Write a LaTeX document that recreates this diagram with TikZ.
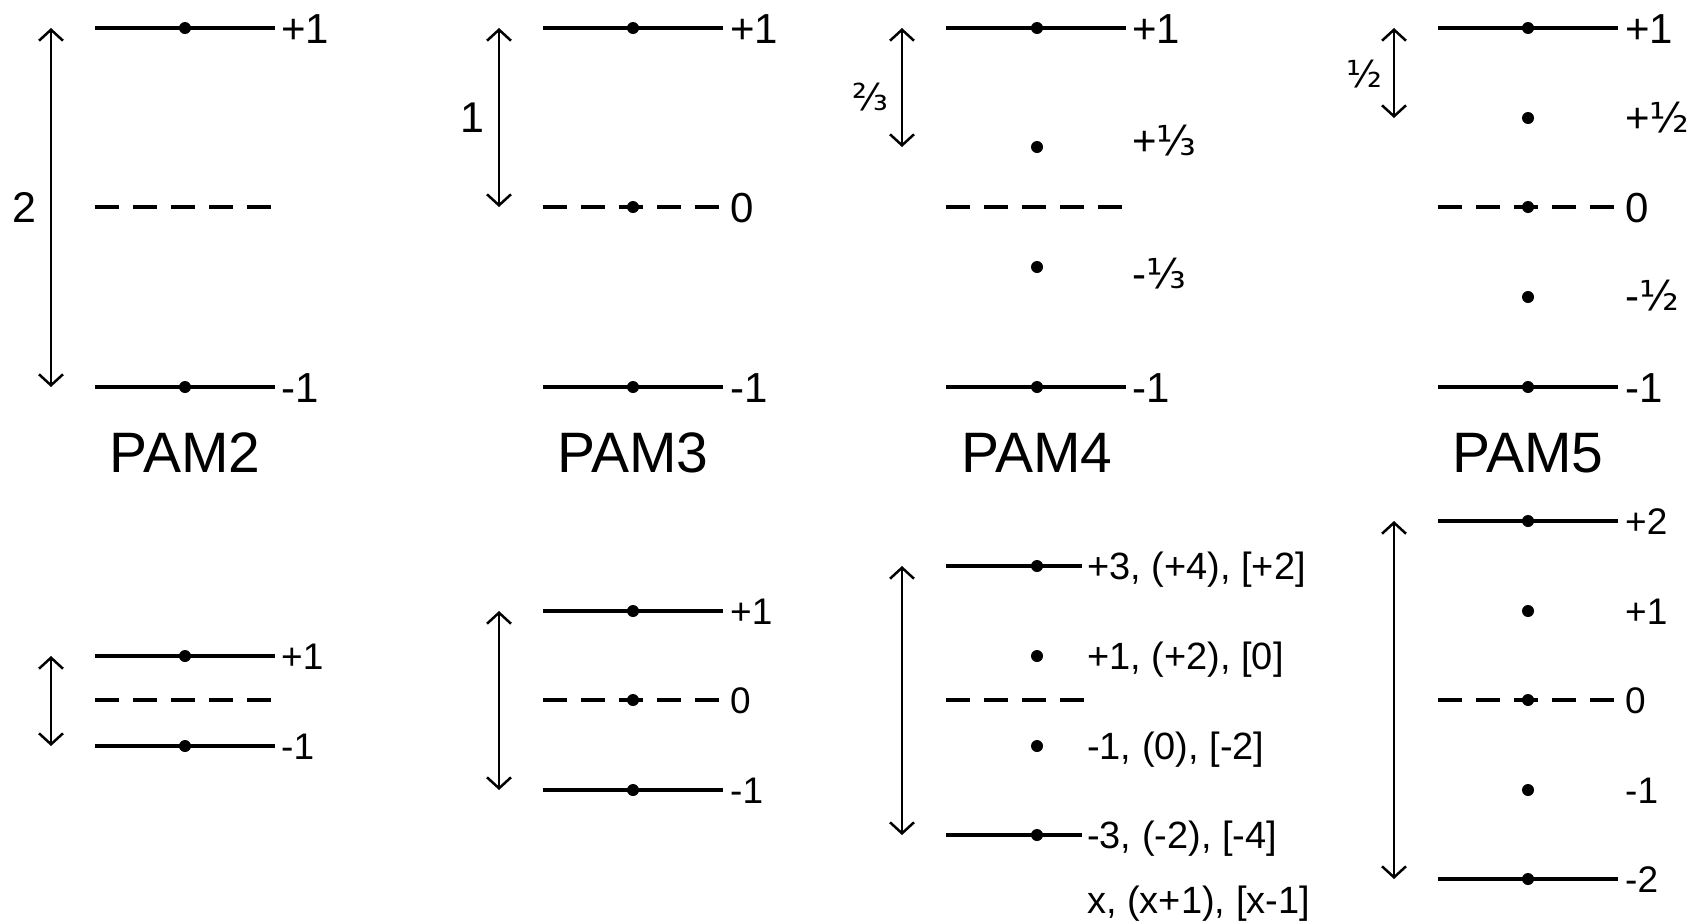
\documentclass[tikz,border=0pt]{standalone}
\usepackage{fontspec}
\setmainfont{Liberation Sans}
\newfontfamily\fracfont{DejaVu Sans}
\usetikzlibrary{arrows.meta}
\tikzset{
 lvl/.style={line width=3.1pt},
 dashlvl/.style={line width=3.1pt, dash pattern=on 24pt off 14pt},
 dot/.style={circle, fill=black, inner sep=0pt, minimum size=12pt},
 val/.style={anchor=base west, inner sep=0pt, font=\fontsize{37}{44}\selectfont},
 valbig/.style={anchor=base west, inner sep=0pt, font=\fontsize{42}{48}\selectfont},
 valmid/.style={anchor=base west, inner sep=0pt, font=\fontsize{38}{44}\selectfont},
 dimlab/.style={anchor=base, inner sep=0pt, font=\fontsize{43}{50}\selectfont},
 pamlab/.style={anchor=base, inner sep=0pt, font=\fontsize{57}{66}\selectfont},
 dimarrow/.style={line width=2.5pt, arrows={Straight Barb[length=11pt,width=24pt]-Straight Barb[length=11pt,width=24pt]}},
}
\newcommand{\solidlvl}[5]{%
  \coordinate (#1L) at (#2,#5); \coordinate (#1R) at (#3,#5);
  \draw[lvl] (#1L) -- (#1R);
  \node[dot] (#1D) at (#4,#5) {};}
\newcommand{\dashedlvl}[4]{%
  \coordinate (#1L) at (#2,#4); \coordinate (#1R) at (#3,#4);
  \draw[dashlvl] (#1L) -- (#1R);}
\newcommand{\fr}[2]{{\fracfont\fontsize{#1}{#1}\selectfont #2}}
\begin{document}
\begin{tikzpicture}[x=1pt,y=-1pt]
\useasboundingbox (0,0) rectangle (1693,922);
% ---------------- PAM2 (top) ----------------
\solidlvl{p2a}{95}{275}{185}{28}
\dashedlvl{p2b}{95}{271}{207}
\solidlvl{p2c}{95}{275}{185}{387}
\coordinate (p2up) at (51,28); \coordinate (p2dn) at (51,387);
\draw[dimarrow] (p2up) -- (p2dn);
\node[dimlab] (p2dim) at (24,222) {2};
\node[valbig] (p2av) at (281,43) {+1};
\node[valbig] (p2cv) at (281,402) {-1};
\node[pamlab] (p2name) at (185,472) {PAM2};
% ---------------- PAM3 (top) ----------------
\solidlvl{p3a}{543}{723}{633}{28}
\dashedlvl{p3b}{543}{719}{207}
\node[dot] (p3bD) at (633,207) {};
\solidlvl{p3c}{543}{723}{633}{387}
\coordinate (p3up) at (499,28); \coordinate (p3dn) at (499,207);
\draw[dimarrow] (p3up) -- (p3dn);
\node[dimlab] (p3dim) at (472,132) {1};
\node[valbig] (p3av) at (730,43) {+1};
\node[valbig] (p3bv) at (730,222) {0};
\node[valbig] (p3cv) at (730,402) {-1};
\node[pamlab] (p3name) at (633,472) {PAM3};
% ---------------- PAM4 (top) ----------------
\solidlvl{p4a}{946}{1126}{1037}{28}
\node[dot] (p4bD) at (1037,147) {};
\dashedlvl{p4c}{946}{1122}{207}
\node[dot] (p4dD) at (1037,267) {};
\solidlvl{p4e}{946}{1126}{1037}{387}
\coordinate (p4up) at (902,28); \coordinate (p4dn) at (902,147);
\draw[dimarrow] (p4up) -- (p4dn);
\node[dimlab] (p4dim) at (870,110) {\fr{37}{⅔}};
\node[valbig] (p4av) at (1132,43) {+1};
\node[valbig] (p4bv) at (1132,155) {+\fr{41}{⅓}};
\node[valbig] (p4dv) at (1132,288) {-\fr{41}{⅓}};
\node[valbig] (p4ev) at (1132,402) {-1};
\node[pamlab] (p4name) at (1037,472) {PAM4};
% ---------------- PAM5 (top) ----------------
\solidlvl{p5a}{1438}{1618}{1528}{28}
\node[dot] (p5bD) at (1528,118) {};
\dashedlvl{p5c}{1438}{1614}{207}
\node[dot] (p5cD) at (1528,207) {};
\node[dot] (p5dD) at (1528,297) {};
\solidlvl{p5e}{1438}{1618}{1528}{387}
\coordinate (p5up) at (1394,28); \coordinate (p5dn) at (1394,118);
\draw[dimarrow] (p5up) -- (p5dn);
\node[dimlab] (p5dim) at (1364,87) {\fr{37}{½}};
\node[valbig] (p5av) at (1625,43) {+1};
\node[valbig] (p5bv) at (1625,132) {+\fr{41}{½}};
\node[valbig] (p5cv) at (1625,222) {0};
\node[valbig] (p5dv) at (1625,310) {-\fr{41}{½}};
\node[valbig] (p5ev) at (1625,402) {-1};
\node[pamlab] (p5name) at (1528,472) {PAM5};
% ---------------- PAM2 (bottom) ----------------
\solidlvl{q2a}{95}{275}{185}{656}
\dashedlvl{q2b}{95}{271}{700}
\solidlvl{q2c}{95}{275}{185}{746}
\coordinate (q2up) at (51,656); \coordinate (q2dn) at (51,746);
\draw[dimarrow] (q2up) -- (q2dn);
\node[val] (q2av) at (281,669.3) {+1};
\node[val] (q2cv) at (281,759.3) {-1};
% ---------------- PAM3 (bottom) ----------------
\solidlvl{q3a}{543}{723}{633}{611}
\dashedlvl{q3b}{543}{719}{700}
\node[dot] (q3bD) at (633,700) {};
\solidlvl{q3c}{543}{723}{633}{790}
\coordinate (q3up) at (499,611); \coordinate (q3dn) at (499,790);
\draw[dimarrow] (q3up) -- (q3dn);
\node[val] (q3av) at (730,624.3) {+1};
\node[val] (q3bv) at (730,713.3) {0};
\node[val] (q3cv) at (730,803.3) {-1};
% ---------------- PAM4 (bottom) ----------------
\solidlvl{q4a}{946}{1082}{1037}{566}
\node[dot] (q4bD) at (1037,656) {};
\dashedlvl{q4c}{946}{1084}{700}
\node[dot] (q4dD) at (1037,746) {};
\solidlvl{q4e}{946}{1082}{1037}{835}
\coordinate (q4up) at (902,566); \coordinate (q4dn) at (902,835);
\draw[dimarrow] (q4up) -- (q4dn);
\node[valmid] (q4av) at (1087,579.6) {+3, (+4), [+2]};
\node[valmid] (q4bv) at (1087,669.6) {+1, (+2), [0]};
\node[valmid] (q4dv) at (1087,759.6) {-1, (0), [-2]};
\node[valmid] (q4ev) at (1087,848.6) {-3, (-2), [-4]};
\node[valmid] (q4xv) at (1087,913) {x, (x+1), [x-1]};
% ---------------- PAM5 (bottom) ----------------
\solidlvl{q5a}{1438}{1618}{1528}{521}
\node[dot] (q5bD) at (1528,611) {};
\dashedlvl{q5c}{1438}{1614}{700}
\node[dot] (q5cD) at (1528,700) {};
\node[dot] (q5dD) at (1528,790) {};
\solidlvl{q5e}{1438}{1618}{1528}{879}
\coordinate (q5up) at (1394,521); \coordinate (q5dn) at (1394,879);
\draw[dimarrow] (q5up) -- (q5dn);
\node[val] (q5av) at (1625,534.3) {+2};
\node[val] (q5bv) at (1625,624.3) {+1};
\node[val] (q5cv) at (1625,713.3) {0};
\node[val] (q5dv) at (1625,803.3) {-1};
\node[val] (q5ev) at (1625,892.3) {-2};
\end{tikzpicture}
\end{document}
